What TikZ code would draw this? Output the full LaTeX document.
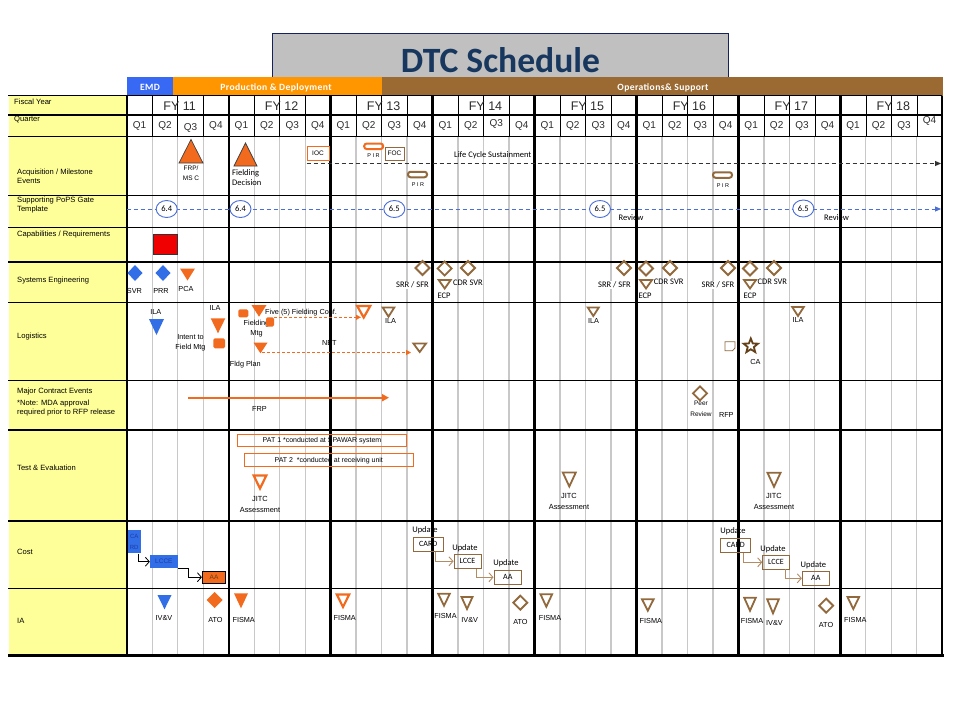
\documentclass[tikz,border=0pt]{standalone}
\usepackage{fontspec}
\setmainfont{Liberation Sans}
\newfontfamily\calfont{Carlito}
\newfontfamily\barfont[LetterSpace=4]{Carlito}
\usetikzlibrary{arrows.meta,shapes.geometric}
\definecolor{emdblue}{RGB}{55,105,245}
\definecolor{pdorange}{RGB}{255,150,0}
\definecolor{osbrown}{RGB}{155,105,50}
\definecolor{labyellow}{RGB}{255,255,153}
\definecolor{titlegray}{RGB}{192,192,192}
\definecolor{titlenavy}{RGB}{20,35,95}
\definecolor{titleblue}{RGB}{23,55,94}
\definecolor{mkorange}{RGB}{242,106,30}
\definecolor{mkbrown}{RGB}{145,105,60}
\definecolor{mkdark}{RGB}{100,65,25}
\definecolor{mktan}{RGB}{180,140,100}
\definecolor{mkblue}{RGB}{50,110,230}
\definecolor{mkdblue}{RGB}{30,60,170}
\definecolor{gridgray}{RGB}{200,200,200}
\definecolor{popsblue}{RGB}{75,110,215}
\definecolor{capred}{RGB}{240,0,0}
\definecolor{txtgray}{RGB}{45,45,45}
\newcommand{\DTri}[5]{\draw[#1] ({#2-#5},#3) -- ({#2+#5},#3) -- (#2,#4) -- cycle;}
\newcommand{\UTri}[5]{\draw[#1] ({#2-#5},#4) -- ({#2+#5},#4) -- (#2,#3) -- cycle;}
\newcommand{\Dmd}[5]{\draw[#1] ({#2-#4},#3) -- (#2,{#3-#5}) -- ({#2+#4},#3) -- (#2,{#3+#5}) -- cycle;}
\begin{document}
\begin{tikzpicture}[x=1pt,y=-1pt,
 lab/.style={font=\fontsize{7.6}{9}\selectfont, inner sep=0pt, anchor=west, align=left},
 sm/.style={font=\fontsize{7.3}{10.5}\selectfont, inner sep=0pt, align=center},
 tinyl/.style={font=\fontsize{5.5}{7}\selectfont, inner sep=0pt},
 cal/.style={font=\calfont\fontsize{8.5}{10}\selectfont, inner sep=0pt, align=center},
 fy/.style={font=\fontsize{12.5}{14}\selectfont, text=txtgray, inner sep=0pt},
 qtr/.style={font=\fontsize{10}{12}\selectfont, text=txtgray, inner sep=0pt},
 bartxt/.style={font=\barfont\bfseries\fontsize{9.6}{11}\selectfont, text=white, inner sep=0pt, anchor=base},
 gate/.style={ellipse, draw=popsblue, line width=0.9pt, fill=white, minimum width=21pt, minimum height=17pt, inner sep=0pt, font=\calfont\fontsize{8.5}{10}\selectfont},
 hdrq/.style={black, line width=0.6pt},
 bodyq/.style={gridgray, line width=1.2pt},
 yearline/.style={black, line width=2.3pt},
 rowline/.style={black, line width=1.2pt},
 holb/.style={draw=mkbrown, line width=1.8pt},
 holo/.style={draw=mkorange, line width=2.2pt},
 filo/.style={fill=mkorange, draw=none},
 filb/.style={fill=mkblue, draw=none},
 msto/.style={fill=mkorange, draw=black!75, line width=0.7pt},
 pirbox/.style={rounded corners=2.5pt, line width=2pt, minimum width=19pt, minimum height=5.5pt, inner sep=0pt},
 ubox/.style={draw=mkbrown, line width=0.9pt, inner sep=0pt, font=\calfont\fontsize{8}{9}\selectfont},
 elbowb/.style={draw=black, line width=0.8pt, -{Straight Barb[length=4pt,width=9pt]}},
 elbowt/.style={draw=mktan, line width=0.9pt, -{Straight Barb[length=4pt,width=9pt]}},
 odash/.style={draw=mkorange, dash pattern=on 3pt off 2pt, line width=0.9pt, -{Triangle[length=5pt,width=5pt]}},
 srr/.style={cal, fill=white, inner xsep=2pt, inner ysep=1pt},
 docshape/.style={fill=mkorange, rounded corners=1.5pt, inner sep=0pt}
]
\useasboundingbox (0,0) rectangle (960,720);
\fill[white] (0,0) rectangle (960,720);

% title
\node[draw=titlenavy, fill=titlegray, line width=1pt, minimum width=456pt, minimum height=46pt, inner sep=0pt] (titlebox) at (500.5,56.5) {};
\node[font=\calfont\bfseries\fontsize{35.6}{40}\selectfont, text=titleblue, anchor=base, inner sep=0pt] (title) at (500.5,72.5) {DTC Schedule};

% phase bars
\fill[emdblue] (126.7,77.3) rectangle (172.7,95.7);
\fill[pdorange] (172.7,77.3) rectangle (381.7,95.7);
\fill[osbrown] (381.7,77.3) rectangle (942.8,95.7);
\node[bartxt] (emdt) at (150,90.3) {EMD};
\node[bartxt] (pdt) at (276,90.3) {Production \& Deployment};
\node[bartxt] (ost) at (663,90.3) {Operations\& Support};

% label column
\fill[labyellow] (9,95.7) rectangle (126,655.5);

% grid
\foreach \j in {1,...,31}{
 \pgfmathtruncatemacro\r{mod(\j,4)}
 \ifnum\r=0 \else
  \draw[hdrq] ({126.7+\j*25.4875},95.7) -- ({126.7+\j*25.4875},136.5);
  \draw[bodyq] ({126.7+\j*25.4875},136.5) -- ({126.7+\j*25.4875},655.5);
 \fi
}
\foreach \yy in {95.7,115,136.5,195.5,227.5,262,302.5,380.5,430,521,588.5}
 \draw[rowline] (8,\yy) -- (942.3,\yy);
\foreach \k in {0,...,8}
 \draw[yearline] ({126.7+\k*101.95},95.7) -- ({126.7+\k*101.95},655.5);
\draw[black, line width=3pt] (8,655.5) -- (943.5,655.5);

% fiscal years and quarters
\foreach \k/\n in {0/11,1/12,2/13,3/14,4/15,5/16,6/17,7/18}
 \node[fy] (fy\n) at ({126.7+50.975+\k*101.95+2},106) {FY \n};
\foreach \i in {0,...,31}{
 \pgfmathtruncatemacro\qn{mod(\i,4)+1}
 \pgfmathsetmacro\qy{ifthenelse(\i==2,127.5,ifthenelse(\i==14,123.5,ifthenelse(\i==31,121,125.5)))}
 \node[qtr] (q\i) at ({126.7+(\i+0.5)*25.4875},\qy) {Q\qn};
}

% row labels
\node[lab] (lfy) at (14,101.5) {Fiscal Year};
\node[lab] (lq) at (14,120) {Quarter};
\node[lab] (lacq) at (17,176.5) {Acquisition / Milestone\\Events};
\node[lab] (lpops) at (17,205.5) {Supporting PoPS Gate\\Template};
\node[lab] (lcap) at (17,235) {Capabilities / Requirements};
\node[lab] (lse) at (17,281) {Systems Engineering};
\node[lab] (llog) at (17,337) {Logistics};
\node[lab] (lmce) at (17,402) {Major Contract Events\\[3pt]*Note: MDA approval\\required prior to RFP release};
\node[lab] (lte) at (17,468) {Test \& Evaluation};
\node[lab] (lcost) at (17,552) {Cost};
\node[lab] (lia) at (17,621) {IA};

% acquisition / milestone events
\UTri{msto}{191}{139.5}{163}{12}
\UTri{msto}{245.5}{143}{166}{11.5}
\node[sm, font=\fontsize{6.5}{10}\selectfont] (frpms) at (191,173) {FRP/\\MS C};
\node[cal, anchor=west, align=left] (fdec) at (232,178) {Fielding\\Decision};
\node[draw=mkorange, line width=1pt, fill=white, minimum width=22pt, minimum height=14pt, inner sep=0pt, font=\fontsize{6.5}{8}\selectfont] (ioc) at (318,153) {IOC};
\coordinate (lcsend) at (941,163.5);
\draw[draw=black!80, dash pattern=on 4pt off 3pt, line width=1pt, -{Triangle[length=6pt,width=5pt]}] (ioc.south west |- lcsend) -- (lcsend);
\node[cal, anchor=west] (lcs) at (454,155) {Life Cycle Sustainment};
\node[pirbox, draw=mkorange] (pir1) at (373.7,146.3) {};
\node[tinyl] (pir1l) at (373.5,155.5) {P I R};
\node[draw=mkbrown, line width=1pt, fill=white, minimum width=19pt, minimum height=13pt, inner sep=0pt, font=\fontsize{6.5}{8}\selectfont] (foc) at (394.5,153.5) {FOC};
\node[pirbox, draw=mkbrown] (pir2) at (417.5,174.5) {};
\node[tinyl] (pir2l) at (418,184.5) {P I R};
\node[pirbox, draw=mkbrown] (pir3) at (722.5,175) {};
\node[tinyl] (pir3l) at (723,186) {P I R};

% PoPS gates
\coordinate (popss) at (126.7,209);
\coordinate (popse) at (941,209);
\draw[draw=popsblue, dash pattern=on 4pt off 3pt, line width=1pt, -{Triangle[length=6pt,width=5pt]}] (popss) -- (popse);
\node[gate] (g1) at (166.7,209) {6.4};
\node[gate] (g2) at (240.5,209) {6.4};
\node[gate] (g3) at (394.3,209) {6.5};
\node[gate] (g4) at (600,209) {6.5};
\node[gate] (g5) at (803.3,208.5) {6.5};
\node[cal] (rev1) at (631,218) {Review};
\node[cal] (rev2) at (836.5,218) {Review};

% capabilities
\node[fill=capred, draw=black!80, line width=0.8pt, minimum width=24pt, minimum height=20pt, inner sep=0pt] (capreq) at (165,244) {};

% systems engineering
\Dmd{filb}{135}{273}{7.5}{8}
\Dmd{filb}{163}{273}{7.5}{8}
\DTri{filo}{187.5}{268.5}{280.5}{7.5}
\node[sm] (svr) at (134.5,291) {SVR};
\node[sm] (prr) at (161,291) {PRR};
\node[sm] (pca) at (186,289) {PCA};
\foreach \a/\b/\c in {422.5/444.7/468, 624/646/670, 728/750/774}{
 \Dmd{holb}{\a}{268}{7}{7}
 \Dmd{holb}{\b}{268.5}{7}{7}
 \Dmd{holb}{\c}{268}{7}{7}
 \DTri{holb}{\b}{280}{288.5}{6}
}
\node[srr] (srr1) at (412.5,285) {SRR / SFR};
\node[srr] (srr2) at (614.5,285) {SRR / SFR};
\node[srr] (srr3) at (718,285) {SRR / SFR};
\node[cal] (ecp1) at (444,295.5) {ECP};
\node[cal] (ecp2) at (645,295.5) {ECP};
\node[cal] (ecp3) at (750,295.5) {ECP};
\node[cal] (cdr1) at (468,282.5) {CDR SVR};
\node[cal] (cdr2) at (668.7,281.5) {CDR SVR};
\node[cal] (cdr3) at (772.3,281.5) {CDR SVR};

% logistics
\node[sm] (ila1) at (155.8,311.7) {ILA};
\DTri{filb}{156.5}{319}{335}{7.5}
\node[sm] (ila2) at (215,308.3) {ILA};
\DTri{filo}{218}{318.3}{333.3}{7.3}
\node[sm] (itf) at (190.5,342.5) {Intent to\\Field Mtg};
\node[docshape, minimum width=11.7pt, minimum height=10pt] (doc1) at (219.2,343.3) {};
\node[docshape, minimum width=10pt, minimum height=8pt] (doc2) at (243.3,313.3) {};
\DTri{filo}{259}{305}{316.7}{7.5}
\node[sm, anchor=west] (fivec) at (265,312.7) {Five (5) Fielding Conf.};
\node[sm, font=\fontsize{7.3}{9.5}\selectfont] (fmtg) at (256.5,328.5) {Fielding\\Mtg};
\node[docshape, minimum width=8pt, minimum height=9.4pt] (doc3) at (270,322) {};
\coordinate (fc1) at (274,317.3);
\coordinate (fc2) at (361,317.3);
\draw[odash] (fc1) -- (fc2);
\DTri{holo}{363.7}{306}{317.5}{6.5}
\DTri{holb}{388.5}{307.5}{316.7}{5.8}
\node[sm] (ila3) at (390.5,321) {ILA};
\DTri{filo}{260.5}{342.7}{353.3}{7}
\node[sm] (net) at (329.3,342.7) {NET};
\coordinate (nt1) at (262,352.5);
\coordinate (nt2) at (411,352.5);
\draw[odash] (nt1) -- (nt2);
\DTri{holb}{419.7}{343.5}{352}{6.3}
\node[sm] (fldg) at (245.3,365) {Fldg Plan};
\DTri{holb}{593.3}{307.5}{316}{5.5}
\node[sm] (ila4) at (593.5,320.5) {ILA};
\draw[mkbrown, line width=0.8pt] (725,341.7) -- (735,341.7) -- (735,348) -- (732.5,350.7) -- (725,350.7) -- cycle;
\node[star, star points=5, star point ratio=2.3, draw=mkdark, line width=1.8pt, minimum size=15pt, inner sep=0pt] (castar) at (750.8,346) {};
\node[sm] (ca) at (755.5,362) {CA};
\DTri{holb}{798}{307}{316}{5.8}
\node[sm] (ila5) at (798,319.5) {ILA};

% major contract events
\coordinate (frps) at (188.3,397.7);
\coordinate (frpe) at (389,397.7);
\draw[mkorange, line width=2pt, -{Triangle[length=7pt,width=7pt]}] (frps) -- (frpe);
\node[sm] (frp) at (259.5,409) {FRP};
\Dmd{holb}{700}{393.3}{7}{7}
\node[sm, font=\fontsize{6.5}{11}\selectfont] (peer) at (701,409) {Peer\\Review};
\node[sm] (rfp) at (726.3,415) {RFP};

% test and evaluation
\node[draw=mkorange, line width=1pt, minimum width=169.4pt, minimum height=11.7pt, inner sep=0pt, font=\fontsize{7}{8}\selectfont] (pat1) at (322,440.2) {PAT 1 *conducted at SPAWAR system};
\node[draw=mkorange, line width=1pt, minimum width=169pt, minimum height=12.7pt, inner sep=0pt, font=\fontsize{7}{8}\selectfont] (pat2) at (328.8,460.3) {PAT 2 \ *conducted at receiving unit};
\DTri{holo}{260}{475.5}{488.5}{6.3}
\node[sm, font=\fontsize{7.4}{11}\selectfont] (jitc1) at (260,504) {JITC\\Assessment};
\DTri{holb}{569.3}{472.5}{486.5}{6.5}
\node[sm, font=\fontsize{7.4}{11}\selectfont] (jitc2) at (569,501.7) {JITC\\Assessment};
\DTri{holb}{774}{472.8}{486.8}{6.5}
\node[sm, font=\fontsize{7.4}{11}\selectfont] (jitc3) at (774,501.7) {JITC\\Assessment};

% cost
\node[fill=mkblue, minimum width=13pt, minimum height=23.3pt, inner sep=0pt, text=mkdblue, font=\fontsize{6}{11}\selectfont, align=center] (cardA) at (134.2,541.7) {CA\\RD};
\node[fill=mkblue, minimum width=27.7pt, minimum height=13.3pt, inner sep=0pt, text=mkdblue, font=\fontsize{6.5}{8}\selectfont] (lcceA) at (163.9,561.7) {LCCE};
\node[fill=mkorange, draw=black, line width=0.8pt, minimum width=23.4pt, minimum height=12.3pt, inner sep=0pt, text=mkdark, font=\fontsize{6.5}{8}\selectfont] (aaA) at (214,577.2) {AA};
\draw[elbowb] (cardA.south east) ++(-2.4,0) |- (lcceA.west);
\draw[elbowb] (lcceA.south east) -- ++(10.6,0) |- (aaA.west);

\node[cal] (up1) at (425,530.5) {Update};
\node[ubox, minimum width=30pt, minimum height=13.7pt] (cardB) at (428.3,544.2) {CARD};
\node[cal] (up2) at (465,548.3) {Update};
\node[ubox, minimum width=27pt, minimum height=14pt] (lcceB) at (467.5,561.3) {LCCE};
\node[cal] (up3) at (506,563.3) {Update};
\node[ubox, minimum width=27.7pt, minimum height=13.3pt] (aaB) at (507.8,577.3) {AA};
\draw[elbowt] (cardB.south) ++(6.7,0) |- (lcceB.west);
\draw[elbowt] (lcceB.south) ++(9.2,0) |- (aaB.west);

\node[cal] (up4) at (733,531.7) {Update};
\node[ubox, minimum width=30pt, minimum height=14pt] (cardC) at (735.7,545.3) {CARD};
\node[cal] (up5) at (773,549) {Update};
\node[ubox, minimum width=26.6pt, minimum height=13.3pt] (lcceC) at (776,562.3) {LCCE};
\node[cal] (up6) at (813.3,565) {Update};
\node[ubox, minimum width=27pt, minimum height=14.7pt] (aaC) at (815.8,578.3) {AA};
\draw[elbowt] (cardC.south) ++(7.6,0) |- (lcceC.west);
\draw[elbowt] (lcceC.south) ++(9,0) |- (aaC.west);

% IA
\DTri{filb}{164.5}{595}{609.3}{7}
\node[sm] (ivv1) at (164,618) {IV\&V};
\Dmd{filo}{214.7}{600}{8}{8}
\node[sm] (ato1) at (215.5,620.3) {ATO};
\DTri{filo}{241}{593.3}{608.3}{7}
\node[sm] (fis1) at (243.7,620.3) {FISMA};
\DTri{holo}{343}{594.5}{607}{6.2}
\node[sm] (fis2) at (344.7,617.7) {FISMA};
\DTri{holb}{444}{593.7}{605.7}{5.8}
\node[sm] (fis3) at (445.5,615.7) {FISMA};
\DTri{holb}{467}{597}{609}{5.5}
\node[sm] (ivv2) at (469.7,620.3) {IV\&V};
\Dmd{holb}{520.3}{602.7}{7}{7}
\node[sm] (ato2) at (520.5,622.3) {ATO};
\DTri{holb}{546.3}{594.3}{606.7}{5.8}
\node[sm] (fis4) at (550,618.3) {FISMA};
\DTri{holb}{647.8}{599.3}{610.7}{5.8}
\node[sm] (fis5) at (650.8,621) {FISMA};
\DTri{holb}{750}{597.7}{610.7}{5.8}
\node[sm] (fis6) at (752,621) {FISMA};
\DTri{holb}{773}{599.3}{613.3}{5.8}
\node[sm] (ivv3) at (774.5,623.3) {IV\&V};
\Dmd{holb}{826.2}{605.7}{7}{7}
\node[sm] (ato3) at (826,625) {ATO};
\DTri{holb}{853.3}{597}{609}{5.8}
\node[sm] (fis7) at (855.3,620) {FISMA};
\end{tikzpicture}
\end{document}
